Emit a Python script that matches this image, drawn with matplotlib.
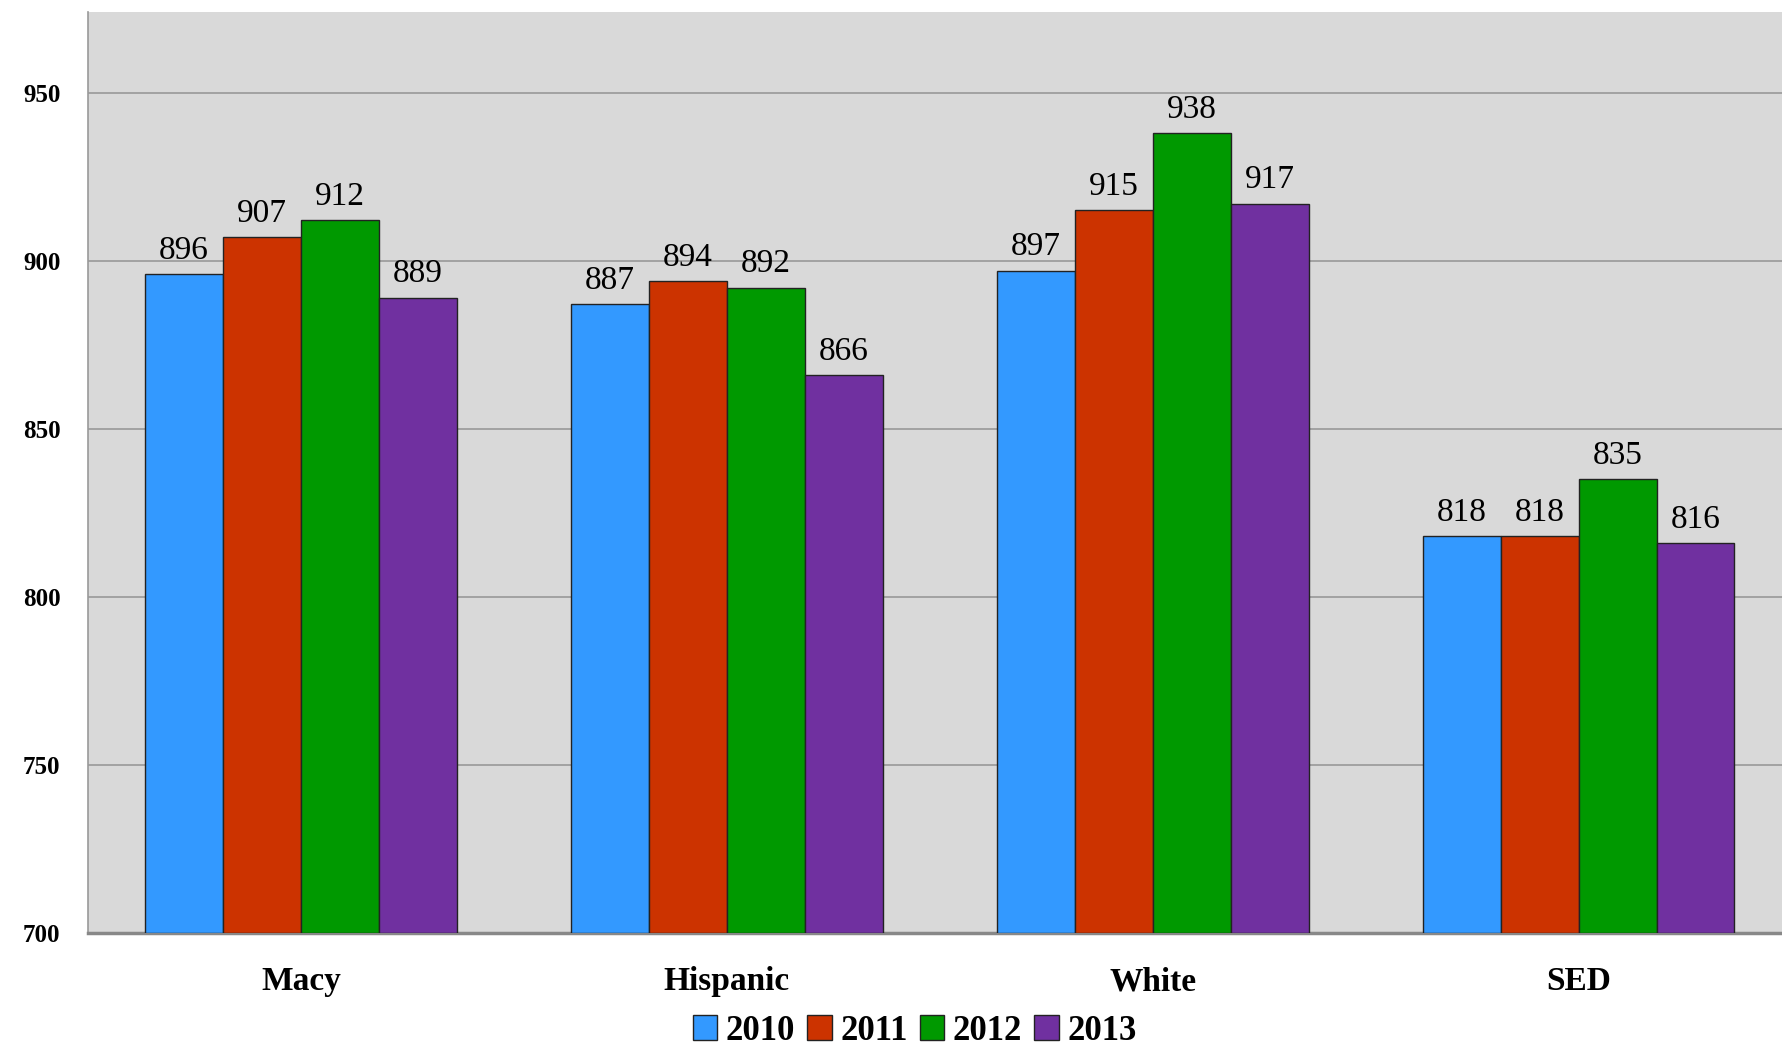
import matplotlib
matplotlib.use("Agg")
import matplotlib.pyplot as plt
import numpy as np

plt.rcParams['font.family'] = ['Liberation Serif', 'DejaVu Serif']

groups = ["Macy", "Hispanic", "White", "SED"]
years = ["2010", "2011", "2012", "2013"]
scores = {
    "2010": [896, 887, 897, 818],
    "2011": [907, 894, 915, 818],
    "2012": [912, 892, 938, 835],
    "2013": [889, 866, 917, 816],
}
colors = ["#3399ff", "#cc3300", "#009900", "#7030a0"]
yticks = [700, 750, 800, 850, 900, 950]

fig = plt.figure(figsize=(17.83, 10.49), dpi=100)
ax = fig.add_axes([0.0494, 0.1106, 0.9506, 0.878])
ax.set_facecolor("#d9d9d9")

x = np.arange(len(groups))
w = 0.183
for i, yr in enumerate(years):
    bars = ax.bar(x + (i - 1.5) * w, np.array(scores[yr]) - 700, w, bottom=700,
                  color=colors[i], edgecolor="#222222", linewidth=1.0,
                  label=yr, zorder=3)
    ax.bar_label(bars, labels=[str(v) for v in scores[yr]], padding=6,
                 fontsize=24, zorder=4)

ax.set_xlim(-0.5, 3.48)
ax.set_ylim(700, 974)
ax.set_yticks(yticks)
ax.set_yticklabels([str(t) for t in yticks], fontsize=18, fontweight="bold")
ax.set_xticks(x)
ax.set_xticklabels(groups, fontsize=24, fontweight="bold")
ax.tick_params(axis="both", length=0)
ax.tick_params(axis="x", pad=24)
ax.tick_params(axis="y", pad=20)
ax.grid(axis="y", color="#999999", linewidth=1.2, zorder=1)

for s in ["top", "right"]:
    ax.spines[s].set_visible(False)
ax.spines["left"].set_color("#999999")
ax.spines["left"].set_linewidth(1.2)
ax.spines["bottom"].set_color("#888888")
ax.spines["bottom"].set_linewidth(2.5)

leg = fig.legend(loc="center", bbox_to_anchor=(0.513, 0.017), ncol=4,
                 frameon=False, handlelength=0.7, handleheight=0.7,
                 handletextpad=0.25, columnspacing=0.35,
                 prop={"weight": "bold", "size": 25})

fig.savefig("out.png", dpi=100)
